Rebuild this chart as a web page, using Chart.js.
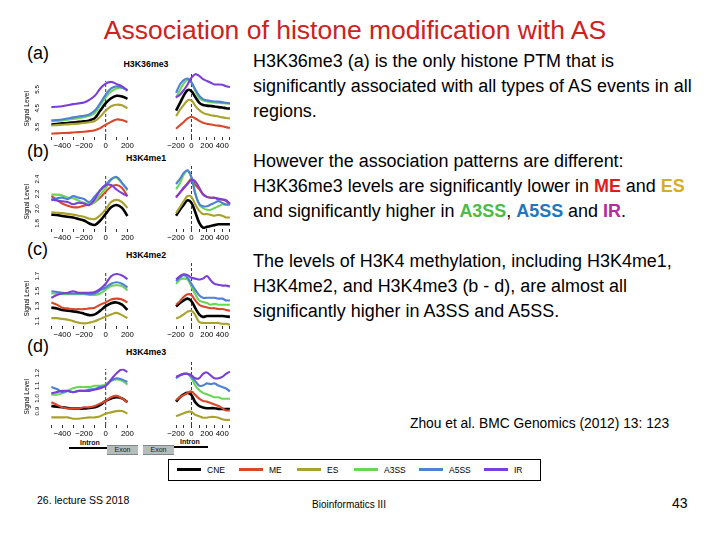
<!DOCTYPE html>
<html>
<head>
<meta charset="utf-8">
<script src="https://cdn.jsdelivr.net/npm/chart.js@4.4.1/dist/chart.umd.min.js"></script>
<style>
  body { margin: 0; background: #fff; }
  #slide { position: relative; width: 720px; height: 540px; overflow: hidden;
           font-family: 'Liberation Sans', Arial, sans-serif; color: #000; }
  .t { position: absolute; white-space: nowrap; color: #000; }
  canvas { position: absolute; }
  .red { color: #e01b1b; font-weight: bold; }
  .gold { color: #d6ae26; font-weight: bold; }
  .green { color: #4cbb47; font-weight: bold; }
  .blue { color: #1f78be; font-weight: bold; }
  .mag { color: #b9299e; font-weight: bold; }
</style>
</head>
<body>
<div id="slide">
  <div class="t" style="left:0;width:710px;text-align:center;top:14px;line-height:32px;font-size:26.5px;color:#cc2222;">Association of histone modification with AS</div>

  <div class="t" style="left:27px;top:43px;line-height:20px;font-size:18px;">(a)</div>
  <div class="t" style="left:27px;top:141px;line-height:20px;font-size:18px;">(b)</div>
  <div class="t" style="left:27px;top:239px;line-height:20px;font-size:18px;">(c)</div>
  <div class="t" style="left:27px;top:336px;line-height:20px;font-size:18px;">(d)</div>

  <div class="t" style="left:253px;top:49px;line-height:25px;font-size:17.95px;">
    H3K36me3 (a) is the only histone PTM that is<br>
    significantly associated with all types of AS events in all<br>
    regions.<br><br>
    However the association patterns are different:<br>
    H3K36me3 levels are significantly lower in <span class="red">ME</span> and <span class="gold">ES</span><br>
    and significantly higher in <span class="green">A3SS</span>, <span class="blue">A5SS</span> and <span class="mag">IR</span>.<br><br>
    The levels of H3K4 methylation, including H3K4me1,<br>
    H3K4me2, and H3K4me3 (b - d), are almost all<br>
    significantly higher in A3SS and A5SS.
  </div>

  <div class="t" style="left:410px;top:416px;line-height:16px;font-size:13.8px;">Zhou et al. BMC Genomics (2012) 13: 123</div>

  <!-- intron / exon sketch under panel (d) -->
  <div class="t" style="left:80px;top:438px;line-height:9px;font-size:7px;font-weight:bold;color:#111;">Intron</div>
  <div class="t" style="left:69px;top:447px;width:39px;height:2px;background:#000;"></div>
  <div class="t" style="left:107px;top:445px;width:31px;height:8px;background:#b4bcbc;border-top:1px solid #808888;border-bottom:1px solid #808888;font-size:7px;line-height:8px;text-align:center;color:#222;">Exon</div>
  <div class="t" style="left:143px;top:445px;width:31px;height:8px;background:#b4bcbc;border-top:1px solid #808888;border-bottom:1px solid #808888;font-size:7px;line-height:8px;text-align:center;color:#222;">Exon</div>
  <div class="t" style="left:174px;top:446px;width:34px;height:2px;background:#000;"></div>
  <div class="t" style="left:180px;top:437px;line-height:9px;font-size:7px;font-weight:bold;color:#111;">Intron</div>

  <div id="legendBox" class="t" style="left:168px;top:459px;width:373px;height:22px;border:1px solid #000;box-sizing:border-box;"></div>

  <div class="t" style="left:37px;top:494px;line-height:12px;font-size:10.5px;">26. lecture SS 2018</div>
  <div class="t" style="left:312px;top:499px;line-height:12px;font-size:10px;">Bioinformatics III</div>
  <div class="t" style="left:672px;top:495px;line-height:16px;font-size:14px;">43</div>
</div>

<script>
// series and axes
const seriesNames = ['CNE', 'ME', 'ES', 'A3SS', 'A5SS', 'IR'];
const seriesColors = ['#000000', '#d9482b', '#a9a22c', '#6ad658', '#4f80d8', '#7b3fd8'];
const panelMarks = ['H3K36me3', 'H3K4me1', 'H3K4me2', 'H3K4me3'];

const xLeft = [-500, -450, -400, -350, -300, -250, -200, -150, -100, -50, 0, 50, 100, 150, 200];
const xRight = [-200, -150, -100, -50, 0, 50, 100, 150, 200, 250, 300, 350, 400, 450, 500];
const xTicksLeft = [-500, -400, -300, -200, -100, 0, 100, 200];
const xLabelsLeft = [-400, -200, 0, 200];
const xTicksRight = [-200, -100, 0, 100, 200, 300, 400, 500];
const xLabelsRight = [-200, 0, 200, 400];

const yLabelsA = [3.5, 4.5, 5.5];
const yLabelsB = [1.8, 2.0, 2.2, 2.4];
const yLabelsC = [1.1, 1.3, 1.5, 1.7];
const yLabelsD = [0.9, 1.0, 1.1, 1.2];

// rows: CNE, ME, ES, A3SS, A5SS, IR
const k36me3Left = [
  [3.64, 3.67, 3.70, 3.72, 3.75, 3.78, 3.81, 3.86, 3.98, 4.38, 4.77, 5.03, 5.16, 5.13, 5.00],
  [3.16, 3.17, 3.19, 3.20, 3.22, 3.24, 3.26, 3.29, 3.34, 3.45, 3.63, 3.78, 3.91, 3.88, 3.78],
  [3.59, 3.61, 3.63, 3.65, 3.67, 3.69, 3.72, 3.76, 3.83, 4.06, 4.38, 4.61, 4.69, 4.66, 4.50],
  [3.81, 3.83, 3.86, 3.90, 3.94, 3.98, 4.03, 4.10, 4.25, 4.66, 5.08, 5.39, 5.55, 5.58, 5.47],
  [3.86, 3.88, 3.91, 3.96, 4.02, 4.07, 4.11, 4.18, 4.38, 4.77, 5.23, 5.55, 5.66, 5.60, 5.44],
  [4.56, 4.58, 4.61, 4.66, 4.72, 4.76, 4.81, 4.95, 5.16, 5.55, 5.81, 5.90, 5.78, 5.66, 5.44]
];
const k36me3Right = [
  [4.19, 4.53, 4.88, 5.13, 5.08, 4.81, 4.56, 4.45, 4.42, 4.40, 4.38, 4.35, 4.33, 4.30, 4.28],
  [3.36, 3.52, 3.67, 3.83, 3.91, 3.83, 3.72, 3.63, 3.59, 3.55, 3.52, 3.50, 3.47, 3.43, 3.39],
  [3.94, 4.22, 4.45, 4.66, 4.66, 4.41, 4.22, 4.09, 4.02, 3.98, 3.95, 3.92, 3.88, 3.85, 3.83],
  [4.77, 5.13, 5.44, 5.59, 5.50, 5.08, 4.77, 4.66, 4.61, 4.58, 4.56, 4.55, 4.53, 4.52, 4.50],
  [5.00, 5.39, 5.59, 5.66, 5.47, 5.16, 4.88, 4.72, 4.66, 4.63, 4.61, 4.60, 4.58, 4.55, 4.53],
  [4.80, 4.92, 5.13, 5.39, 5.70, 5.86, 5.78, 5.63, 5.55, 5.47, 5.39, 5.39, 5.38, 5.31, 5.27]
];
const k4me1Left = [
  [1.92, 1.915, 1.90, 1.89, 1.88, 1.86, 1.84, 1.80, 1.78, 1.84, 1.93, 2.02, 2.05, 2.01, 1.90],
  [2.17, 2.12, 2.07, 2.04, 2.02, 2.02, 2.04, 2.06, 2.09, 2.15, 2.23, 2.30, 2.32, 2.28, 2.17],
  [1.95, 1.945, 1.94, 1.93, 1.92, 1.905, 1.89, 1.865, 1.86, 1.91, 1.99, 2.09, 2.12, 2.09, 2.01],
  [2.19, 2.19, 2.18, 2.15, 2.14, 2.11, 2.08, 2.06, 2.09, 2.19, 2.28, 2.39, 2.42, 2.34, 2.25],
  [2.11, 2.14, 2.15, 2.13, 2.17, 2.15, 2.13, 2.09, 2.17, 2.25, 2.32, 2.40, 2.43, 2.35, 2.26],
  [2.13, 2.11, 2.10, 2.09, 2.06, 2.08, 2.07, 2.05, 2.13, 2.25, 2.32, 2.32, 2.26, 2.21, 2.17]
];
const k4me1Right = [
  [1.88, 1.95, 2.01, 2.06, 2.03, 1.92, 1.80, 1.74, 1.75, 1.76, 1.77, 1.78, 1.78, 1.78, 1.78],
  [2.10, 2.15, 2.21, 2.26, 2.31, 2.24, 2.19, 2.13, 2.10, 2.09, 2.09, 2.07, 2.07, 2.05, 2.01],
  [1.91, 1.98, 2.05, 2.11, 2.10, 2.01, 1.94, 1.90, 1.90, 1.89, 1.88, 1.89, 1.88, 1.86, 1.86],
  [2.19, 2.26, 2.36, 2.40, 2.32, 2.15, 2.01, 1.97, 1.95, 1.95, 1.97, 1.99, 2.01, 2.01, 2.02],
  [2.25, 2.31, 2.38, 2.41, 2.33, 2.13, 2.02, 1.99, 1.99, 2.01, 2.03, 2.05, 2.03, 2.01, 2.01],
  [2.09, 2.15, 2.20, 2.25, 2.30, 2.28, 2.21, 2.13, 2.10, 2.09, 2.09, 2.08, 2.07, 2.06, 2.02]
];
const k4me2Left = [
  [1.28, 1.27, 1.25, 1.24, 1.23, 1.22, 1.20, 1.18, 1.19, 1.24, 1.30, 1.34, 1.35, 1.32, 1.25],
  [1.35, 1.32, 1.28, 1.27, 1.26, 1.26, 1.26, 1.27, 1.28, 1.32, 1.35, 1.39, 1.40, 1.39, 1.35],
  [1.14, 1.14, 1.13, 1.12, 1.10, 1.08, 1.07, 1.08, 1.10, 1.13, 1.16, 1.19, 1.21, 1.18, 1.14],
  [1.47, 1.47, 1.46, 1.46, 1.46, 1.46, 1.46, 1.45, 1.45, 1.47, 1.52, 1.57, 1.58, 1.57, 1.51],
  [1.50, 1.49, 1.48, 1.47, 1.47, 1.47, 1.47, 1.46, 1.47, 1.51, 1.55, 1.60, 1.62, 1.60, 1.55],
  [1.41, 1.45, 1.47, 1.48, 1.50, 1.48, 1.48, 1.48, 1.49, 1.53, 1.60, 1.70, 1.73, 1.71, 1.66]
];
const k4me2Right = [
  [1.26, 1.30, 1.33, 1.35, 1.32, 1.24, 1.17, 1.14, 1.15, 1.15, 1.15, 1.15, 1.15, 1.145, 1.14],
  [1.28, 1.32, 1.37, 1.40, 1.39, 1.33, 1.28, 1.26, 1.25, 1.24, 1.24, 1.23, 1.23, 1.22, 1.21],
  [1.12, 1.14, 1.17, 1.20, 1.21, 1.16, 1.08, 1.07, 1.07, 1.07, 1.07, 1.07, 1.06, 1.06, 1.05],
  [1.52, 1.57, 1.58, 1.57, 1.49, 1.40, 1.33, 1.31, 1.30, 1.28, 1.29, 1.28, 1.28, 1.28, 1.28],
  [1.55, 1.59, 1.62, 1.59, 1.52, 1.45, 1.39, 1.36, 1.36, 1.36, 1.36, 1.35, 1.35, 1.33, 1.33],
  [1.57, 1.61, 1.63, 1.62, 1.59, 1.58, 1.57, 1.58, 1.61, 1.56, 1.52, 1.51, 1.50, 1.50, 1.49]
];
const k4me3Left = [
  [0.94, 0.935, 0.93, 0.925, 0.92, 0.92, 0.92, 0.925, 0.93, 0.95, 0.98, 1.00, 1.01, 1.00, 0.97],
  [0.97, 0.95, 0.93, 0.92, 0.92, 0.92, 0.93, 0.93, 0.94, 0.96, 0.98, 1.01, 1.02, 1.00, 0.97],
  [0.85, 0.85, 0.85, 0.85, 0.84, 0.84, 0.845, 0.85, 0.85, 0.86, 0.88, 0.89, 0.90, 0.90, 0.88],
  [1.03, 1.03, 1.04, 1.06, 1.08, 1.09, 1.09, 1.09, 1.10, 1.10, 1.11, 1.14, 1.15, 1.14, 1.11],
  [1.09, 1.075, 1.05, 1.06, 1.05, 1.06, 1.06, 1.07, 1.075, 1.09, 1.10, 1.14, 1.16, 1.15, 1.13],
  [1.04, 1.05, 1.06, 1.06, 1.05, 1.06, 1.06, 1.06, 1.07, 1.08, 1.10, 1.15, 1.20, 1.23, 1.21]
];
const k4me3Right = [
  [0.95, 0.98, 1.00, 1.01, 0.995, 0.945, 0.92, 0.91, 0.905, 0.905, 0.905, 0.90, 0.90, 0.90, 0.90],
  [0.96, 0.98, 0.995, 1.01, 1.02, 0.995, 0.97, 0.955, 0.95, 0.94, 0.93, 0.92, 0.905, 0.89, 0.89],
  [0.85, 0.86, 0.87, 0.88, 0.88, 0.86, 0.85, 0.84, 0.84, 0.845, 0.845, 0.84, 0.83, 0.825, 0.825],
  [1.11, 1.13, 1.14, 1.14, 1.11, 1.06, 1.03, 1.01, 1.00, 0.99, 0.98, 0.98, 0.97, 0.97, 0.97],
  [1.11, 1.13, 1.14, 1.14, 1.12, 1.09, 1.06, 1.06, 1.075, 1.07, 1.075, 1.06, 1.05, 1.04, 1.02],
  [1.12, 1.13, 1.14, 1.14, 1.13, 1.11, 1.11, 1.14, 1.15, 1.13, 1.11, 1.11, 1.12, 1.14, 1.155]
];

Chart.defaults.font.family = "'Liberation Sans', Arial, sans-serif";
Chart.defaults.color = '#000';

const slide = document.getElementById('slide');

// panel placement (chart area top / height in px, y range)
const panels = [
  { top: 72,  h: 65, yMin: 2.98,  yMax: 5.96,  yLabels: yLabelsA, left: k36me3Left, right: k36me3Right },
  { top: 166, h: 63, yMin: 1.725, yMax: 2.46,  yLabels: yLabelsB, left: k4me1Left,  right: k4me1Right },
  { top: 263, h: 63, yMin: 1.035, yMax: 1.76,  yLabels: yLabelsC, left: k4me2Left,  right: k4me2Right },
  { top: 360, h: 65, yMin: 0.79,  yMax: 1.235, yLabels: yLabelsD, left: k4me3Left,  right: k4me3Right }
];

function fmtX(v) {
  return v < 0 ? '\u2212' + Math.abs(v) : String(v);
}

function drawHalf(p, isLeft) {
  const xs = isLeft ? xLeft : xRight;
  const rows = isLeft ? p.left : p.right;
  const ticks = isLeft ? xTicksLeft : xTicksRight;
  const labels = isLeft ? xLabelsLeft : xLabelsRight;

  const cv = document.createElement('canvas');
  cv.width = isLeft ? 115 : 88;
  cv.height = p.h + 14;
  cv.style.left = (isLeft ? 20 : 146) + 'px';
  cv.style.top = p.top + 'px';
  slide.appendChild(cv);

  const datasets = rows.map(function (vals, i) {
    return {
      label: seriesNames[i],
      data: xs.map(function (x, j) { return { x: x, y: vals[j] }; }),
      borderColor: seriesColors[i],
      borderWidth: i === 0 ? 2.6 : 2.1,
      pointRadius: 0,
      tension: 0.35,
      fill: false,
      order: seriesNames.length - i
    };
  });
  // dashed line at the splice site
  datasets.push({
    label: 'site',
    data: [{ x: 0, y: p.yMin }, { x: 0, y: p.yMax }],
    borderColor: '#000',
    borderWidth: 0.8,
    borderDash: [3, 2],
    pointRadius: 0,
    order: 20
  });

  new Chart(cv, {
    type: 'line',
    data: { datasets: datasets },
    options: {
      responsive: false,
      animation: false,
      events: [],
      layout: { padding: { left: 0, right: 1, top: 0, bottom: 0 } },
      plugins: { legend: { display: false }, tooltip: { enabled: false } },
      scales: {
        x: {
          type: 'linear',
          min: isLeft ? -540 : -240,
          max: isLeft ? 240 : 540,
          afterBuildTicks: function (s) { s.ticks = ticks.map(function (v) { return { value: v }; }); },
          afterFit: function (s) { s.height = 14; },
          ticks: {
            autoSkip: false, maxRotation: 0, minRotation: 0, padding: 1,
            font: { size: 7.8 }, color: '#000',
            callback: function (v) { return labels.indexOf(v) >= 0 ? fmtX(v) : ''; }
          },
          grid: { display: true, drawOnChartArea: false, drawTicks: true, tickLength: 3, color: '#000', lineWidth: 0.8 },
          border: { display: false }
        },
        y: {
          display: isLeft,
          min: p.yMin,
          max: p.yMax,
          afterBuildTicks: function (s) { s.ticks = p.yLabels.map(function (v) { return { value: v }; }); },
          afterFit: function (s) { s.width = 27; },
          ticks: {
            minRotation: 90, maxRotation: 90, crossAlign: 'center', padding: 5,
            font: { size: 6.2 }, color: '#000',
            callback: function (v) { return v.toFixed(1); }
          },
          grid: { display: false, drawTicks: false },
          border: { display: false },
          title: { display: true, text: 'Signal Level', font: { size: 6.5 }, color: '#000', padding: { top: 3, bottom: 0 } }
        }
      }
    }
  });
}

panels.forEach(function (p, k) {
  const lab = document.createElement('div');
  lab.className = 't';
  lab.style.cssText = 'left:96px;width:100px;text-align:center;font-size:8.8px;font-weight:bold;line-height:10px;top:' + (p.top - 13) + 'px;';
  lab.textContent = panelMarks[k];
  slide.appendChild(lab);
  drawHalf(p, true);
  drawHalf(p, false);
});

// legend row
const legendLineX = [176, 238, 296, 353, 418, 483];
const legendBox = document.getElementById('legendBox');
seriesNames.forEach(function (name, i) {
  const ln = document.createElement('div');
  ln.className = 't';
  ln.style.cssText = 'left:' + (legendLineX[i] - 168) + 'px;top:8px;width:24px;height:3px;background:' + seriesColors[i] + ';';
  legendBox.appendChild(ln);
  const tx = document.createElement('div');
  tx.className = 't';
  tx.style.cssText = 'left:' + (legendLineX[i] - 168 + 30) + 'px;top:5px;font-size:8.5px;line-height:10px;';
  tx.textContent = name;
  legendBox.appendChild(tx);
});
</script>
</body>
</html>
